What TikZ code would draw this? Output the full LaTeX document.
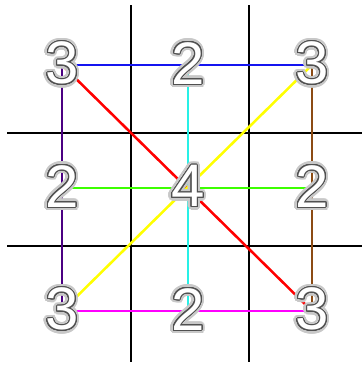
\documentclass[tikz,border=0pt]{standalone}
\usepackage{fontspec}
\setmainfont{Liberation Sans}
\usepackage{contour}
\usetikzlibrary{backgrounds}
\definecolor{linkpurple}{RGB}{75,0,130}
\definecolor{linkbrown}{RGB}{140,75,20}
\definecolor{linkcyan}{RGB}{40,240,230}
\definecolor{linkgreen}{RGB}{60,255,0}
\definecolor{linkblue}{RGB}{20,20,240}
\definecolor{linkmagenta}{RGB}{255,0,255}
\definecolor{linkyellow}{RGB}{255,255,0}
\definecolor{linkred}{RGB}{255,0,0}
\definecolor{outlinegray}{RGB}{80,80,80}
\definecolor{glowgray}{RGB}{200,200,200}
\newcommand{\glowdigit}[1]{\rlap{\contourlength{2.6pt}\contour[24]{glowgray}{\textcolor{glowgray}{#1}}}%
  \contourlength{0.75pt}\contour[24]{outlinegray}{\textcolor{white}{#1}}}

\begin{document}
\begin{tikzpicture}[x=0.75pt,y=-0.75pt,
    gridline/.style={line width=1.9pt,black},
    link/.style={line width=1.9pt},
    digit/.style={inner sep=0pt,font=\fontsize{45}{45}\selectfont}]
  \useasboundingbox (0,0) rectangle (362,368);
  % the nine numbers
  \node[digit] (tl) at (62,65)   {\glowdigit{3}};
  \node[digit] (tm) at (188,65)  {\glowdigit{2}};
  \node[digit] (tr) at (312,65)  {\glowdigit{3}};
  \node[digit] (ml) at (62,188)  {\glowdigit{2}};
  \node[digit] (mc) at (188,188) {\glowdigit{4}};
  \node[digit] (mr) at (312,188) {\glowdigit{2}};
  \node[digit] (bl) at (62,311)  {\glowdigit{3}};
  \node[digit] (bm) at (188,311) {\glowdigit{2}};
  \node[digit] (br) at (312,311) {\glowdigit{3}};
  % ends of the board lines
  \coordinate (v1top) at (131,5);   \coordinate (v1bot) at (131,362);
  \coordinate (v2top) at (249,5);   \coordinate (v2bot) at (249,362);
  \coordinate (h1left) at (7,133);  \coordinate (h1right) at (362,133);
  \coordinate (h2left) at (7,246);  \coordinate (h2right) at (362,246);
  \begin{scope}[on background layer]
    \draw[gridline] (v1top) -- (v1bot);
    \draw[gridline] (v2top) -- (v2bot);
    \draw[gridline] (h1left) -- (h1right);
    \draw[gridline] (h2left) -- (h2right);
    % lines through the numbers
    \draw[link,linkblue]    (tl.center) -- (tr.center);
    \draw[link,linkgreen]   (ml.center) -- (mr.center);
    \draw[link,linkmagenta] (bl.center) -- (br.center);
    \draw[link,linkpurple]  (tl.center) -- (bl.center);
    \draw[link,linkcyan]    (tm.center) -- (bm.center);
    \draw[link,linkbrown]   (tr.center) -- (br.center);
    \draw[link,linkred]     (tl.center) -- (br.center);
    \draw[link,linkyellow]  (bl.center) -- (tr.center);
  \end{scope}
\end{tikzpicture}
\end{document}
